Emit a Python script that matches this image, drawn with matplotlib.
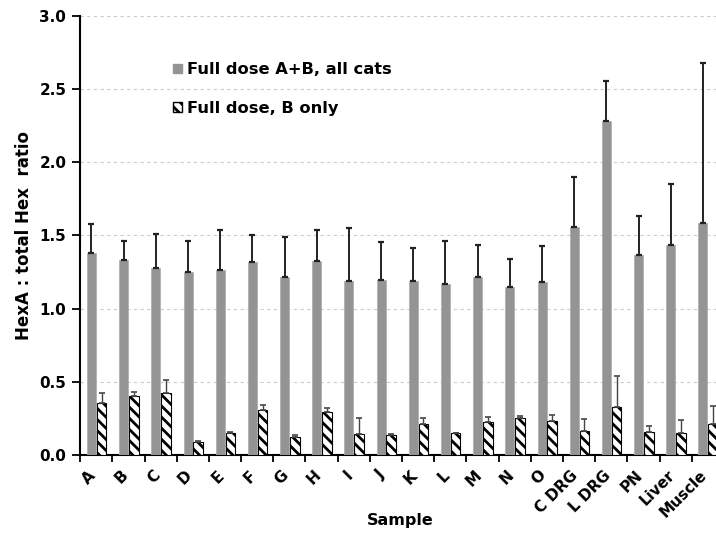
import numpy as np
import matplotlib as mpl
mpl.use("Agg")
import matplotlib.pyplot as plt
from matplotlib.patches import Patch

plt.rcParams['font.family'] = ['DejaVu Sans']
plt.rcParams['font.weight'] = 'bold'
plt.rcParams['hatch.linewidth'] = 2.0

samples = ['A', 'B', 'C', 'D', 'E', 'F', 'G', 'H', 'I', 'J', 'K', 'L', 'M', 'N', 'O',
           'C DRG', 'L DRG', 'PN', 'Liver', 'Muscle']
# Full dose A+B, all cats: mean and upper error
full_ab = [1.38, 1.33, 1.28, 1.25, 1.265, 1.32, 1.215, 1.325, 1.19, 1.196,
           1.185, 1.17, 1.215, 1.147, 1.178, 1.555, 2.279, 1.363, 1.434, 1.585]
full_ab_err = [0.198, 0.134, 0.227, 0.212, 0.272, 0.185, 0.271, 0.212, 0.361, 0.256,
               0.231, 0.29, 0.219, 0.193, 0.252, 0.342, 0.274, 0.27, 0.42, 1.095]
# Full dose, B only
b_only = [0.356, 0.40, 0.42, 0.087, 0.149, 0.306, 0.12, 0.29, 0.142, 0.137,
          0.21, 0.146, 0.226, 0.25, 0.23, 0.164, 0.327, 0.155, 0.151, 0.208]
b_only_err = [0.064, 0.03, 0.09, 0.004, 0.005, 0.034, 0.013, 0.03, 0.108, 0.005,
              0.04, 0.006, 0.034, 0.015, 0.04, 0.082, 0.21, 0.042, 0.087, 0.122]

fig = plt.figure(figsize=(7.16, 5.35), dpi=100)
ax = fig.add_axes([0.112, 0.150, 0.899, 0.820])

x = np.arange(len(samples))
gray = '#949494'
ax.bar(x - 0.15, full_ab, width=0.28, color=gray, edgecolor='#b0b0b0', linewidth=0.6,
       yerr=[np.zeros(len(x)), full_ab_err],
       error_kw=dict(ecolor='#222222', elinewidth=1.4, capsize=2.5, capthick=1.6), zorder=3)
ax.bar(x + 0.165, b_only, width=0.3, color='white', edgecolor='black', linewidth=0.8,
       hatch='\\\\\\', yerr=[np.zeros(len(x)), b_only_err],
       error_kw=dict(ecolor='#444444', elinewidth=1.0, capsize=2.5, capthick=1.2), zorder=3)

ax.set_xlim(-0.5, len(samples) - 0.5)
ax.set_ylim(0, 3.0)
ax.set_yticks(np.arange(0, 3.01, 0.5))
ax.set_yticklabels(['%.1f' % v for v in np.arange(0, 3.01, 0.5)], fontsize=11)
for v in np.arange(0.5, 3.01, 0.5):
    ax.axhline(v, color='#cccccc', linestyle=(0, (3, 3)), linewidth=0.8, zorder=0)

ax.set_xticks(x)
ax.set_xticklabels(samples, rotation=45, ha='right', va='baseline', rotation_mode='anchor',
                   fontsize=11)
ax.tick_params(axis='x', which='major', length=0, pad=15.5)
ax.set_xticks(np.arange(-0.5, len(samples), 1.0), minor=True)
ax.tick_params(axis='x', which='minor', length=5, width=1.3, direction='out')
ax.tick_params(axis='y', length=6, width=1.3, direction='out', pad=4)

for s in ['top', 'right']:
    ax.spines[s].set_visible(False)
ax.spines['left'].set_linewidth(1.5)
ax.spines['bottom'].set_linewidth(1.5)

ax.set_ylabel('HexA : total Hex  ratio', fontsize=12, fontweight='bold')
ax.yaxis.set_label_coords(-0.073, 0.5)
ax.set_xlabel('Sample', fontsize=11.5, fontweight='bold')
ax.xaxis.set_label_coords(0.498, -0.132)

handles = [Patch(facecolor=gray, edgecolor=gray, label='Full dose A+B, all cats'),
           Patch(facecolor='white', edgecolor='black', hatch='\\\\\\', label='Full dose, B only')]
leg = ax.legend(handles=handles, loc='upper left', bbox_to_anchor=(0.122, 0.928), frameon=False,
                handlelength=0.55, handleheight=0.55, handletextpad=0.3, labelspacing=1.45,
                prop=dict(size=11.7, weight='bold'))

fig.savefig('out.png', dpi=100)
